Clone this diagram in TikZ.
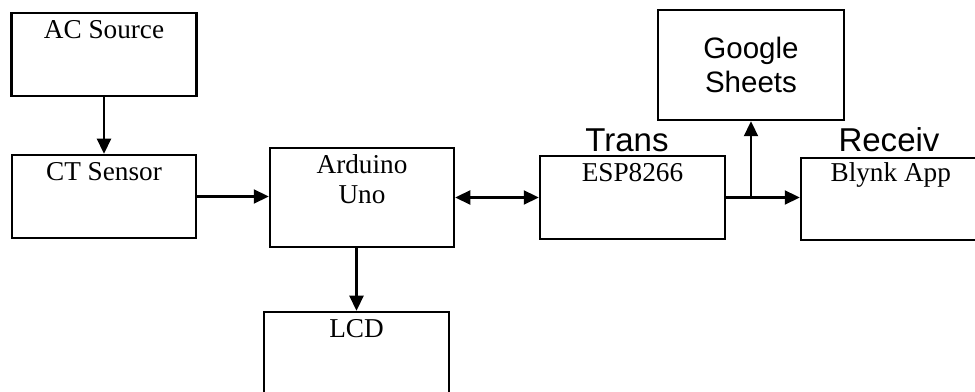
\documentclass[tikz,border=0pt]{standalone}
\usepackage{fontspec}
\setmainfont{Liberation Serif}
\setsansfont{Liberation Sans}
\usetikzlibrary{positioning, arrows.meta, calc}

\tikzset{
  blk/.style={draw, line width=0.5mm, inner sep=0pt},
  lbl/.style={font=\fontsize{15.5}{17}\selectfont, inner sep=0pt, anchor=base, align=center},
  slbl/.style={font=\sffamily\fontsize{16.8}{19.3}\selectfont, inner sep=0pt, anchor=base, align=center},
  tag/.style={font=\sffamily\fontsize{18.8}{20}\selectfont, inner sep=0pt, anchor=base},
  arr/.style={-{Triangle[length=3mm, width=2.8mm]}, line width=0.45mm},
  arrboth/.style={{Triangle[length=3mm, width=2.8mm]}-{Triangle[length=3mm, width=2.8mm]}, line width=0.45mm},
}

\begin{document}
\begin{tikzpicture}[x=0.2mm, y=-0.2mm]
  \useasboundingbox (0,0) rectangle (975,392);
  \clip (0,0) rectangle (975,392);

  % blocks
  \node[blk, minimum width=37mm, minimum height=16.6mm] (ac) at (104,54.5) {};
  \node[blk, minimum width=36.8mm, minimum height=16.6mm] (ct) at (104,196.5) {};
  \node[blk, minimum width=36.8mm, minimum height=19.8mm] (ard) at (362,197.5) {};
  \node[blk, minimum width=37mm, minimum height=18mm] (lcd) at (356.5,357) {};
  \node[blk, minimum width=37mm, minimum height=16.6mm] (esp) at (632.5,197.5) {};
  \node[blk, minimum width=37.2mm, minimum height=22mm] (goo) at (751,65) {};
  \node[blk, minimum width=37.8mm, minimum height=16.4mm] (bly) at (895.5,199) {};

  % block texts (multi-line ones sit on their last line)
  \node[lbl] (acl) at ($(ac.north)+(0,27)$) {AC Source};
  \node[lbl] (ctl) at ($(ct.north)+(0,27)$) {CT Sensor};
  \node[lbl] (ardl) at ($(ard.north)+(0,57)$) {Arduino\\Uno};
  \node[lbl] (lcdl) at ($(lcd.north)+(0,27)$) {LCD};
  \node[lbl] (espl) at ($(esp.north)+(0,27)$) {ESP8266};
  \node[lbl] (blyl) at ($(bly.north west)+(91,25)$) {Blynk App};
  \node[slbl] (gool) at ($(goo.north)+(0,84)$) {Google\\Sheets};
  \node[tag] (trans) at ($(esp.north)+(-5.5,-3)$) {Trans};
  \node[tag] (recv) at ($(bly.north)+(-6.5,-5)$) {Receiv};

  % links
  \draw[arr] (ac.south) -- (ct.north);
  \draw[arr] (ct.east) -- (ct.east -| ard.west);
  \draw[arrboth] (ard.east) -- (ard.east -| esp.west);
  \draw[arr] (lcd.north |- ard.south) -- (lcd.north);
  \draw[arr] (esp.east) -- (esp.east -| bly.west);
  \coordinate (br) at (esp.east -| goo.south);
  \draw[arr] (br) -- (goo.south);
\end{tikzpicture}
\end{document}
